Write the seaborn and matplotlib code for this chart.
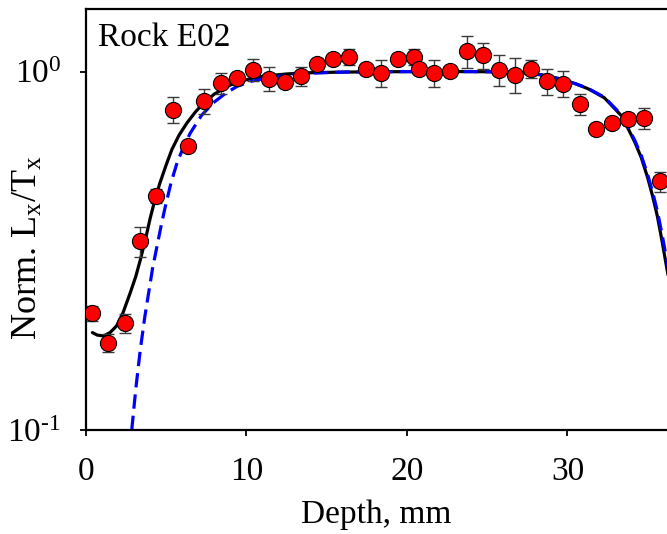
import matplotlib
matplotlib.use("Agg")
import matplotlib.pyplot as plt
import matplotlib.ticker as mticker
import numpy as np
import pandas as pd
import seaborn as sns

# Measured normalised Lx/Tx values along the core
depth = [0.36, 1.4, 2.4, 3.38, 4.38, 5.42, 6.35, 7.33, 8.42, 9.38, 10.42, 11.4,
         12.4, 13.38, 14.42, 15.42, 16.4, 17.44, 18.4, 19.42, 20.42, 20.73,
         21.7, 22.7, 23.73, 24.73, 25.73, 26.75, 27.75, 28.75, 29.75, 30.77,
         31.75, 32.75, 33.75, 34.75, 35.77]
norm_lt = [0.212, 0.175, 0.199, 0.336, 0.450, 0.783, 0.619, 0.826, 0.929, 0.960,
           1.013, 0.956, 0.933, 0.970, 1.052, 1.087, 1.099, 1.017, 0.992, 1.085,
           1.099, 1.019, 0.992, 1.002, 1.140, 1.111, 1.013, 0.981, 1.017, 0.939,
           0.926, 0.812, 0.692, 0.719, 0.738, 0.742, 0.494]
norm_err = [0.01, 0.01, 0.012, 0.032, 0.02, 0.066, 0.02, 0.066, 0.061, 0.03,
            0.07, 0.075, 0.03, 0.06, 0.03, 0.03, 0.058, 0.03, 0.086, 0.03,
            0.058, 0.03, 0.086, 0.03, 0.115, 0.093, 0.102, 0.111, 0.06, 0.079,
            0.075, 0.054, 0.02, 0.02, 0.03, 0.052, 0.032]

# Model fit with surface term (solid black)
fit_a_depth = [0.4, 0.7, 1.1, 1.5, 1.9, 2.3, 2.75, 3.1, 3.4, 3.7, 4.0, 4.3, 4.6,
               5.0, 5.35, 5.8, 6.3, 6.8, 7.3, 8.0, 9.0, 10.0, 11.0, 12.5, 14.0,
               16.0, 20.0, 24.0, 26.0, 27.5, 28.5, 29.5, 30.5, 31.3, 32.3, 33.4,
               34.2, 34.6, 35.0, 35.3, 35.6, 35.9, 36.3]
fit_a_value = [0.187, 0.184, 0.183, 0.187, 0.195, 0.212, 0.241, 0.268, 0.300,
               0.340, 0.390, 0.440, 0.488, 0.550, 0.606, 0.665, 0.720, 0.770,
               0.815, 0.866, 0.918, 0.950, 0.970, 0.985, 0.993, 0.997, 1.0, 1.0,
               0.998, 0.990, 0.978, 0.955, 0.925, 0.895, 0.845, 0.750, 0.635,
               0.575, 0.505, 0.450, 0.395, 0.335, 0.265]

# Single-exposure model fit (dashed blue)
fit_b_depth = [2.85, 3.1, 3.38, 3.65, 3.9, 4.15, 4.42, 4.7, 4.94, 5.3, 5.67, 6.1,
               6.5, 7.2, 7.94, 8.7, 9.42, 10.3, 11.3, 12.5, 14.0, 16.0, 20.0,
               24.0, 26.0, 27.5, 28.5, 29.5, 30.5, 31.3, 32.3, 33.4, 34.2, 34.6,
               35.0, 35.3, 35.6, 35.9, 36.3]
fit_b_value = [0.100, 0.130, 0.167, 0.205, 0.241, 0.283, 0.325, 0.375, 0.420,
               0.490, 0.556, 0.620, 0.674, 0.755, 0.819, 0.870, 0.910, 0.940,
               0.960, 0.978, 0.990, 0.997, 1.0, 1.0, 0.998, 0.990, 0.978, 0.955,
               0.925, 0.897, 0.848, 0.755, 0.642, 0.583, 0.515, 0.462, 0.408,
               0.350, 0.280]

y_ticks = [0.1, 1.0]
y_tick_labels = [r"$\mathregular{10^{\text{-}1}}$", r"$\mathregular{10^{0}}$"]
x_ticks = [0, 10, 20, 30]

sns.set_theme(style="ticks")
plt.rcParams["font.family"] = ["Liberation Serif", "DejaVu Serif"]
plt.rcParams["mathtext.fontset"] = "custom"
plt.rcParams["mathtext.rm"] = "Liberation Serif"
plt.rcParams["mathtext.it"] = "Liberation Serif:italic"
plt.rcParams["mathtext.bf"] = "Liberation Serif:bold"

fig = plt.figure(figsize=(6.67, 5.34), dpi=100)
ax = fig.add_axes([86 / 667, 104 / 534, 1 - 86 / 667, (430 - 8.5) / 534])

points = pd.DataFrame({"depth": depth, "value": norm_lt, "err": norm_err})
fit_a = pd.DataFrame({"depth": fit_a_depth, "value": fit_a_value})
fit_b = pd.DataFrame({"depth": fit_b_depth, "value": fit_b_value})

ax.set_yscale("log")

sns.lineplot(data=fit_a, x="depth", y="value", ax=ax, color="black",
             linewidth=2.3, zorder=2)
sns.lineplot(data=fit_b, x="depth", y="value", ax=ax, color="#0000FF",
             linewidth=2.3, zorder=2.5)
ax.lines[-1].set_dashes([4.5, 2.2])

ax.errorbar(points["depth"], points["value"], yerr=points["err"], fmt="none",
            ecolor="#3a3a3a", elinewidth=1.0, capsize=4.3, capthick=1.0,
            zorder=3)
sns.scatterplot(data=points, x="depth", y="value", ax=ax, color="#FF0000",
                edgecolor="black", linewidth=0.8, s=135, zorder=4)

ax.set_xlim(0, 36.2)
ax.set_ylim(0.1, 1.5)
ax.set_xticks(x_ticks)
ax.set_yticks(y_ticks)
ax.yaxis.set_major_formatter(mticker.FixedFormatter(y_tick_labels))
ax.yaxis.set_minor_locator(mticker.NullLocator())

ax.tick_params(axis="both", which="major", direction="out", length=4,
               width=1.3, color="black", labelsize=24, labelcolor="black")
ax.tick_params(axis="x", pad=15)
ax.tick_params(axis="y", pad=14)

for side in ["left", "bottom", "top"]:
    ax.spines[side].set_visible(True)
    ax.spines[side].set_color("black")
    ax.spines[side].set_linewidth(1.6)
ax.spines["right"].set_visible(False)

ax.set_xlabel("Depth, mm", fontsize=24, color="black", labelpad=9)
ax.set_ylabel(r"Norm. L$_\mathregular{x}$/T$_\mathregular{x}$", fontsize=26,
              color="black")
ax.yaxis.set_label_coords(-0.07, 0.434)
ax.grid(False)

ax.text(0.02, 0.911, "Rock E02", transform=ax.transAxes, fontsize=24,
        ha="left", va="baseline", color="black")

fig.savefig("out.png", dpi=100)
